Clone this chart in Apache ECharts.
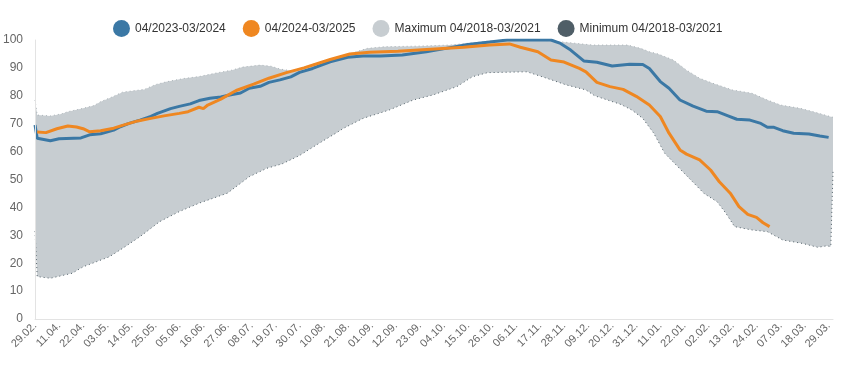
<!DOCTYPE html>
<html>
<head>
<meta charset="utf-8">
<script src="https://cdn.jsdelivr.net/npm/echarts@6/dist/echarts.min.js"></script>
<style>
html,body{margin:0;padding:0;background:#fff;}
#chart{width:845px;height:376px;}
</style>
</head>
<body>
<div id="chart"></div>
<script>
// Tick labels (every 11th day, day index 0 = 29.02., 1 = 01.04., ... 365 = 31.03.)
const tickLabels = ['29.02.','11.04.','22.04.','03.05.','14.05.','25.05.','05.06.','16.06.','27.06.','08.07.','19.07.','30.07.','10.08.','21.08.','01.09.','12.09.','23.09.','04.10.','15.10.','26.10.','06.11.','17.11.','28.11.','09.12.','20.12.','31.12.','11.01.','22.01.','02.02.','13.02.','24.02.','07.03.','18.03.','29.03.'];

const seriesNames = ['04/2023-03/2024','04/2024-03/2025','Maximum 04/2018-03/2021','Minimum 04/2018-03/2021'];

// 04/2023-03/2024
const days2324 = [0,1,7,11,21,25,30,36,39,43,48,53,56,62,66,71,75,80,85,89,94,98,103,107,112,117,121,127,135,143,150,158,168,179,188,198,207,216,236,240,245,251,257,264,272,278,281,286,290,295,301,307,312,317,321,327,332,335,338,342,347,354,359,363];
const vals2324 = [69.5,64.8,63.9,64.6,64.9,66.0,66.4,67.7,68.9,70.1,71.3,72.6,73.7,75.4,76.2,77.1,78.3,79.1,79.6,80.3,81.0,82.7,83.4,84.8,85.7,86.8,88.4,89.8,92.2,93.8,94.3,94.3,94.6,95.8,97.0,98.4,99.2,100,100,98.9,96.4,92.5,92.0,90.7,91.3,91.2,89.8,85.1,82.7,78.5,76.3,74.5,74.3,72.8,71.6,71.3,70.1,68.7,68.7,67.5,66.6,66.3,65.6,65.1];

// 04/2024-03/2025
const days2425 = [1,5,10,15,19,22,25,30,36,40,47,53,59,66,70,75,77,79,85,92,100,107,115,123,135,144,153,166,181,196,208,217,222,230,236,242,249,252,257,263,269,275,281,286,290,295,298,304,309,313,318,322,326,330,333,336];
const vals2425 = [67.0,66.8,68.2,69.2,68.8,68.2,67.1,67.5,68.4,69.4,71.0,71.9,72.8,73.7,74.3,75.9,75.4,76.7,78.8,81.9,84.2,86.3,88.3,90.0,93.0,95.0,95.6,96.0,96.7,97.4,98.2,98.6,97.4,95.8,92.8,92.1,89.8,88.6,84.8,83.3,82.3,79.8,76.7,72.6,66.6,60.6,59.1,57.0,53.4,49.2,45.1,40.3,37.5,36.4,34.5,33.1];

// Maximum 04/2018-03/2021
const daysMax = [0,1,7,12,15,22,27,30,35,40,45,50,55,60,68,75,83,90,95,103,108,112,117,122,130,138,145,152,160,175,190,200,210,230,240,255,271,277,281,285,292,298,304,310,319,328,335,341,350,356,364,365];
const valsMax = [78.5,73.1,72.8,73.5,74.3,75.5,76.5,77.9,79.5,81.3,81.8,82.3,84.0,85.0,86.2,86.9,88.2,89.2,90.3,91.0,90.6,89.6,89.0,90.0,92.0,93.8,95.3,97.0,97.6,97.8,98.2,99.0,99.8,100,99.4,98.2,98.2,97.0,95.8,95.0,92.8,89.2,86.3,84.5,82.1,80.9,78.5,76.7,75.5,74.3,72.5,72.3];

// Minimum 04/2018-03/2021
const daysMin = [0,1,7,17,22,34,40,48,57,66,75,88,98,106,113,121,130,138,141,150,162,173,182,193,200,207,225,234,243,252,256,268,273,278,283,288,294,300,306,312,316,320,328,335,342,351,358,362,364,365];
const valsMin = [31.5,15.2,14.6,16.4,18.7,22.3,25.3,29.5,34.9,38.5,41.5,45.1,51.0,54.0,55.6,58.6,63.0,66.8,68.3,71.9,74.9,78.5,80.3,83.3,86.8,88.3,88.6,86.3,83.9,82.1,80.0,76.9,74.9,71.9,66.6,59.4,54.6,49.8,45.0,42.0,37.9,33.1,31.9,31.3,28.3,27.1,25.7,26.2,26.0,52.8];

const pairs = (d, v) => d.map((x, i) => [x, v[i]]);

const FONT = '"Liberation Sans", Arial, Helvetica, sans-serif';
const chart = echarts.init(document.getElementById('chart'), null, {renderer: 'canvas'});
chart.setOption({
  animation: false,
  backgroundColor: '#ffffff',
  textStyle: {fontFamily: FONT},
  legend: {
    data: seriesNames,
    top: 15,
    left: 108,
    icon: 'circle',
    itemWidth: 17,
    itemHeight: 17,
    itemGap: 17,
    textStyle: {fontSize: 12, color: '#333', fontFamily: FONT}
  },
  grid: {left: 35, right: 12, top: 40, bottom: 57, containLabel: false},
  xAxis: {
    type: 'value',
    min: 0,
    max: 365,
    interval: 11,
    z: 5,
    axisLine: {show: true, lineStyle: {color: '#e3e3e3', width: 1}},
    axisTick: {show: false},
    splitLine: {show: false},
    axisLabel: {
      rotate: 45,
      margin: 5,
      fontSize: 11,
      color: '#666',
      fontFamily: FONT,
      showMaxLabel: false,
      formatter: function (v) {
        return (v % 11 === 0 && tickLabels[v / 11] !== undefined) ? tickLabels[v / 11] : '';
      }
    }
  },
  yAxis: {
    type: 'value',
    min: 0,
    max: 100,
    interval: 10,
    z: 5,
    axisLine: {show: true, lineStyle: {color: '#e3e3e3', width: 1}},
    axisTick: {show: false},
    splitLine: {show: false},
    axisLabel: {fontSize: 12, color: '#666', margin: 12, fontFamily: FONT}
  },
  series: [
    {
      name: seriesNames[2],
      type: 'line',
      data: pairs(daysMax, valsMax),
      showSymbol: false,
      symbol: 'none',
      itemStyle: {color: '#c7cdd1'},
      lineStyle: {color: '#aab2b7', width: 1, type: [1, 3]},
      areaStyle: {color: '#c7cdd1', opacity: 1},
      z: 1
    },
    {
      name: seriesNames[3],
      type: 'line',
      data: pairs(daysMin, valsMin),
      showSymbol: false,
      symbol: 'none',
      itemStyle: {color: '#4f5e67'},
      lineStyle: {color: '#4f5e67', width: 1, type: [1, 3]},
      areaStyle: {color: '#ffffff', opacity: 1},
      z: 1
    },
    {
      name: seriesNames[0],
      type: 'line',
      data: pairs(days2324, vals2324),
      showSymbol: false,
      symbol: 'none',
      itemStyle: {color: '#3b78a5'},
      lineStyle: {color: '#3b78a5', width: 3},
      z: 3
    },
    {
      name: seriesNames[1],
      type: 'line',
      data: pairs(days2425, vals2425),
      showSymbol: false,
      symbol: 'none',
      itemStyle: {color: '#ef8721'},
      lineStyle: {color: '#ef8721', width: 3},
      z: 4
    }
  ]
});
</script>
</body>
</html>
